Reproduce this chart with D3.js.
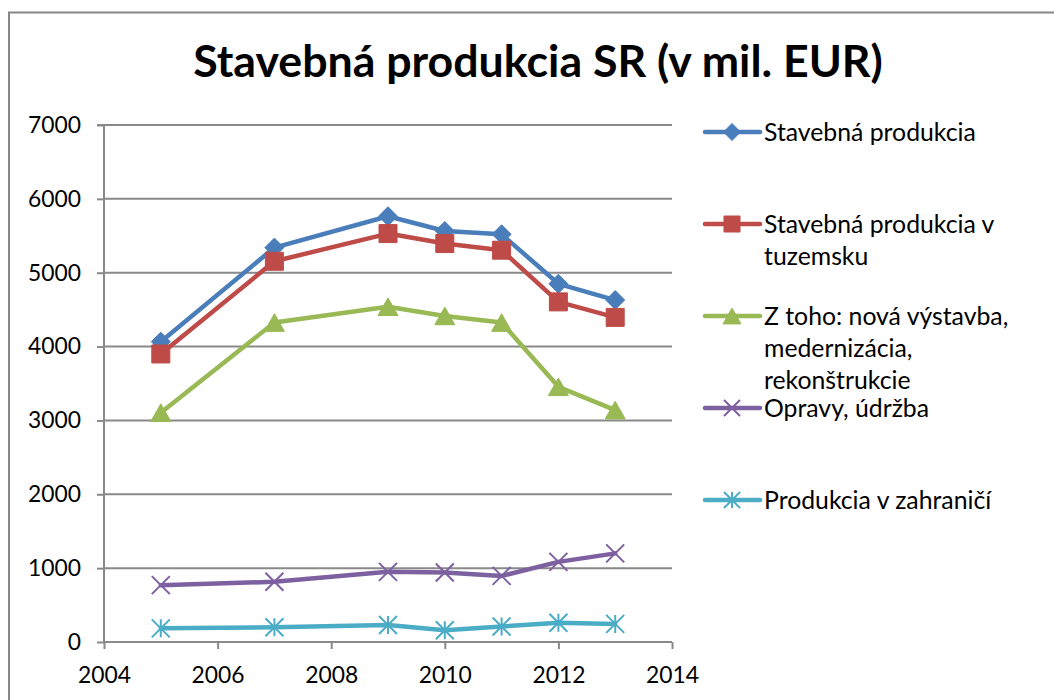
<!DOCTYPE html>
<html><head><meta charset="utf-8">
<script src="https://cdn.jsdelivr.net/npm/d3@7"></script>
<style>body{margin:0;background:#fff}svg{display:block}</style>
</head><body>
<svg id="chart" width="1054" height="700"></svg>
<script>
// ---- data ----
const years = [2005, 2007, 2009, 2010, 2011, 2012, 2013];
const stavebnaProdukcia = [4066, 5340, 5765, 5565, 5520, 4850, 4630];
const produkciaTuzemsko = [3900, 5155, 5530, 5395, 5305, 4605, 4395];
const novaVystavba = [3105, 4325, 4540, 4415, 4325, 3455, 3140];
const opravyUdrzba = [770, 815, 950, 940, 895, 1085, 1200];
const produkciaZahranicie = [185, 200, 230, 160, 210, 260, 245];
const seriesNames = ["Stavebná produkcia", "Stavebná produkcia v tuzemsku",
  "Z toho: nová výstavba, medernizácia, rekonštrukcie", "Opravy, údržba", "Produkcia v zahraničí"];
const legendLines = [["Stavebná produkcia"], ["Stavebná produkcia v", "tuzemsku"],
  ["Z toho: nová výstavba,", "medernizácia,", "rekonštrukcie"], ["Opravy, údržba"], ["Produkcia v zahraničí"]];
const xTicks = [2004, 2006, 2008, 2010, 2012, 2014];
const yTicks = [0, 1000, 2000, 3000, 4000, 5000, 6000, 7000];
const titleText = "Stavebná produkcia SR (v mil. EUR)";

const seriesValues = [stavebnaProdukcia, produkciaTuzemsko, novaVystavba, opravyUdrzba, produkciaZahranicie];
const colors = ["#4A7EBB", "#BE4B48", "#98B954", "#7D60A0", "#4BACC6"];
const markerTypes = ["diamond", "square", "triangle", "x", "star"];

// ---- layout ----
const svg = d3.select("#chart");
const font = "Lato, 'Liberation Sans', sans-serif";
const L = 104, R = 672, T = 125, B = 642;
const x = d3.scaleLinear().domain([2004, 2014]).range([L, R]);
const y = d3.scaleLinear().domain([0, 7000]).range([B, T]);

function fitFont(sel, target) {
  let fs = parseFloat(sel.attr("font-size"));
  const w = sel.node().getComputedTextLength();
  fs = fs * target / w;
  sel.attr("font-size", fs);
  return fs;
}

// outer border
svg.append("rect").attr("x", 9).attr("y", 12.5).attr("width", 1100).attr("height", 800)
  .attr("fill", "none").attr("stroke", "#878787").attr("stroke-width", 2);

// title
const title = svg.append("text").attr("x", 538).attr("y", 77).attr("text-anchor", "middle")
  .attr("font-family", font).attr("font-weight", "bold").attr("font-size", 40).attr("fill", "#000")
  .text(titleText);
fitFont(title, 690);

// gridlines
svg.append("g").selectAll("line").data(yTicks.filter(d => d > 0)).join("line")
  .attr("x1", L).attr("x2", R).attr("y1", d => y(d)).attr("y2", d => y(d))
  .attr("stroke", "#898989").attr("stroke-width", 2);

// measure axis font size
const probe = svg.append("text").attr("font-family", font).attr("font-size", 24).text("7000");
const axisFs = fitFont(probe, 53);
probe.remove();

// y axis
const yAxis = svg.append("g").attr("transform", `translate(${L},0)`)
  .call(d3.axisLeft(y).tickValues(yTicks).tickSize(7).tickPadding(16).tickFormat(d3.format("d")));
// x axis
const xAxis = svg.append("g").attr("transform", `translate(0,${B})`)
  .call(d3.axisBottom(x).tickValues(xTicks).tickSize(7).tickPadding(18).tickFormat(d3.format("d")));
[yAxis, xAxis].forEach(a => {
  a.select(".domain").attr("stroke", "#898989").attr("stroke-width", 2);
  a.selectAll(".tick line").attr("stroke", "#898989").attr("stroke-width", 2);
  a.selectAll(".tick text").attr("font-family", font).attr("font-size", axisFs).attr("fill", "#000");
});
yAxis.select(".domain").attr("d", `M-7,${T}H0V${B}`);
xAxis.select(".domain").attr("d", `M${L},0H${R}`);

// marker shapes
function markerPath(type, s) {
  const h = s / 2;
  switch (type) {
    case "diamond": return `M0,${-h}L${h},0L0,${h}L${-h},0Z`;
    case "square": return `M${-h},${-h}H${h}V${h}H${-h}Z`;
    case "triangle": return `M0,${-h * 0.88}L${h},${h * 0.88}H${-h}Z`;
    case "x": return `M${-h},${-h}L${h},${h}M${-h},${h}L${h},${-h}`;
    case "star": return `M${-h},${-h}L${h},${h}M${-h},${h}L${h},${-h}M0,${-h}V${h}`;
  }
}
function drawMarker(g, type, color, cx, cy, s) {
  const filled = type === "diamond" || type === "square" || type === "triangle";
  g.append("path").attr("transform", `translate(${cx},${cy})`).attr("d", markerPath(type, s))
    .attr("fill", filled ? color : "none").attr("stroke", color)
    .attr("stroke-width", filled ? 1 : 2);
}
const markerSizes = [19, 18, 20, 18, 18];

// series
const line = d3.line().x(d => x(d[0])).y(d => y(d[1]));
seriesValues.forEach((vals, i) => {
  const pts = years.map((yr, j) => [yr, vals[j]]);
  const g = svg.append("g");
  g.append("path").attr("d", line(pts)).attr("fill", "none").attr("stroke", colors[i])
    .attr("stroke-width", 4.5).attr("stroke-linejoin", "round").attr("stroke-linecap", "round");
  pts.forEach(p => drawMarker(g, markerTypes[i], colors[i], x(p[0]), y(p[1]), markerSizes[i]));
});

// legend
const probe2 = svg.append("text").attr("font-family", font).attr("font-size", 24).text(legendLines[0][0]);
const legFs = fitFont(probe2, 212);
probe2.remove();
legendLines.forEach((lines, i) => {
  const cy = 132 + i * 92;
  const g = svg.append("g");
  g.append("line").attr("x1", 705).attr("x2", 760).attr("y1", cy).attr("y2", cy)
    .attr("stroke", colors[i]).attr("stroke-width", 4.5).attr("stroke-linecap", "round");
  drawMarker(g, markerTypes[i], colors[i], 732, cy, markerSizes[i] - 2);
  const t = g.append("text").attr("font-family", font).attr("font-size", legFs).attr("fill", "#000");
  lines.forEach((ln, k) => {
    t.append("tspan").attr("x", 764).attr("y", cy + k * 32 + legFs * 0.36).text(ln);
  });
});
</script>
</body></html>
